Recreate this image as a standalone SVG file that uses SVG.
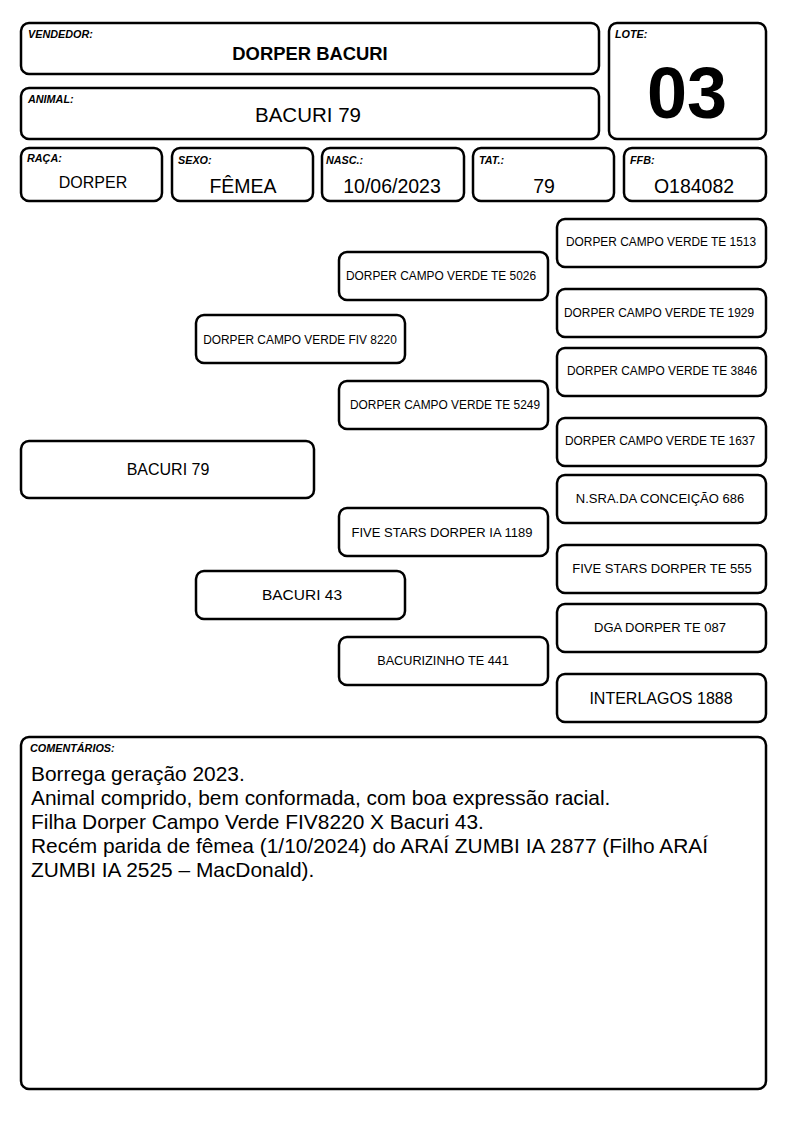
<svg xmlns="http://www.w3.org/2000/svg" width="794" height="1123" viewBox="0 0 794 1123">
<style>
rect.b{fill:#fff;stroke:#000;stroke-width:2.5}
text{font-family:"Liberation Sans",Arial,sans-serif;fill:#000}
.lbl{font-size:10.8px;font-weight:bold;font-style:italic}
.c{text-anchor:middle}
.p{font-size:11.9px;text-anchor:middle}
.q{font-size:13px;text-anchor:middle}
.v{font-size:19.5px;text-anchor:middle}
.cm{font-size:20.9px}
</style>
<rect width="794" height="1123" fill="#fff"/>
<g id="vendedor"><rect class="b" x="21" y="23" width="578" height="51" rx="8"/><text class="lbl" x="28" y="38">VENDEDOR:</text><text x="310" y="60" class="c" font-size="18.4" font-weight="bold">DORPER BACURI</text></g>
<g id="animal"><rect class="b" x="21" y="88" width="578" height="51" rx="8"/><text class="lbl" x="28" y="103">ANIMAL:</text><text x="308" y="122" class="c" font-size="20.5">BACURI 79</text></g>
<g id="lote"><rect class="b" x="609" y="23" width="157" height="116" rx="8"/><text class="lbl" x="615" y="38">LOTE:</text><text x="687" y="118" class="c" font-size="72" font-weight="bold">03</text></g>
<g id="raca"><rect class="b" x="21" y="148" width="141" height="53" rx="8"/><text class="lbl" x="27" y="162">RAÇA:</text><text x="93" y="188" class="c" font-size="16">DORPER</text></g>
<g id="sexo"><rect class="b" x="172" y="148" width="141" height="53" rx="8"/><text class="lbl" x="178" y="164">SEXO:</text><text x="243" y="193" class="v">FÊMEA</text></g>
<g id="nasc"><rect class="b" x="322" y="148" width="142" height="53" rx="8"/><text class="lbl" x="326" y="164">NASC.:</text><text x="392" y="193" class="v">10/06/2023</text></g>
<g id="tat"><rect class="b" x="473" y="148" width="141" height="53" rx="8"/><text class="lbl" x="479" y="164">TAT.:</text><text x="544" y="193" class="v">79</text></g>
<g id="ffb"><rect class="b" x="624" y="148" width="142" height="53" rx="8"/><text class="lbl" x="630" y="164">FFB:</text><text x="694" y="193" class="v">O184082</text></g>
<g id="connectors"></g>
<g id="n-bacuri79"><rect class="b" x="21" y="441" width="293" height="57" rx="8"/><text x="168" y="475" class="c" font-size="16">BACURI 79</text></g>
<g id="n-fiv8220"><rect class="b" x="196" y="315" width="209" height="48" rx="8"/><text x="300" y="344" class="p">DORPER CAMPO VERDE FIV 8220</text></g>
<g id="n-bacuri43"><rect class="b" x="196" y="571" width="209" height="48" rx="8"/><text x="302" y="600" class="c" font-size="15.5">BACURI 43</text></g>
<g id="n-te5026"><rect class="b" x="339" y="252" width="209" height="48" rx="8"/><text x="441" y="280" class="p">DORPER CAMPO VERDE TE 5026</text></g>
<g id="n-te5249"><rect class="b" x="339" y="381" width="209" height="48" rx="8"/><text x="445" y="409" class="p">DORPER CAMPO VERDE TE 5249</text></g>
<g id="n-ia1189"><rect class="b" x="339" y="508" width="209" height="48" rx="8"/><text x="442" y="537" class="q">FIVE STARS DORPER IA 1189</text></g>
<g id="n-te441"><rect class="b" x="339" y="637" width="209" height="48" rx="8"/><text x="443" y="665" class="c" font-size="12.7">BACURIZINHO TE 441</text></g>
<g id="n-te1513"><rect class="b" x="557" y="219" width="209" height="48" rx="8"/><text x="661" y="246" class="p">DORPER CAMPO VERDE TE 1513</text></g>
<g id="n-te1929"><rect class="b" x="557" y="289" width="209" height="48" rx="8"/><text x="659" y="317" class="p">DORPER CAMPO VERDE TE 1929</text></g>
<g id="n-te3846"><rect class="b" x="557" y="348" width="209" height="48" rx="8"/><text x="662" y="375" class="p">DORPER CAMPO VERDE TE 3846</text></g>
<g id="n-te1637"><rect class="b" x="557" y="418" width="209" height="48" rx="8"/><text x="660" y="445" class="p">DORPER CAMPO VERDE TE 1637</text></g>
<g id="n-nsra686"><rect class="b" x="557" y="475" width="209" height="48" rx="8"/><text x="660" y="503" class="q">N.SRA.DA CONCEIÇÃO 686</text></g>
<g id="n-te555"><rect class="b" x="557" y="545" width="209" height="48" rx="8"/><text x="662" y="573" class="q">FIVE STARS DORPER TE 555</text></g>
<g id="n-te087"><rect class="b" x="557" y="604" width="209" height="48" rx="8"/><text x="660" y="632" class="q">DGA DORPER TE 087</text></g>
<g id="n-interlagos"><rect class="b" x="557" y="674" width="209" height="48" rx="8"/><text x="661" y="704" class="c" font-size="16">INTERLAGOS 1888</text></g>
<g id="comentarios"><rect class="b" x="21" y="737" width="745" height="352" rx="8"/><text class="lbl" x="30" y="752" font-size="11">COMENTÁRIOS:</text>
<text class="cm" x="31" y="781">Borrega geração 2023.</text>
<text class="cm" x="31" y="805">Animal comprido, bem conformada, com boa expressão racial.</text>
<text class="cm" x="31" y="829">Filha Dorper Campo Verde FIV8220 X Bacuri 43.</text>
<text class="cm" x="31" y="853">Recém parida de fêmea (1/10/2024) do ARAÍ ZUMBI IA 2877 (Filho ARAÍ</text>
<text class="cm" x="31" y="877">ZUMBI IA 2525 – MacDonald).</text>
</g>
</svg>
